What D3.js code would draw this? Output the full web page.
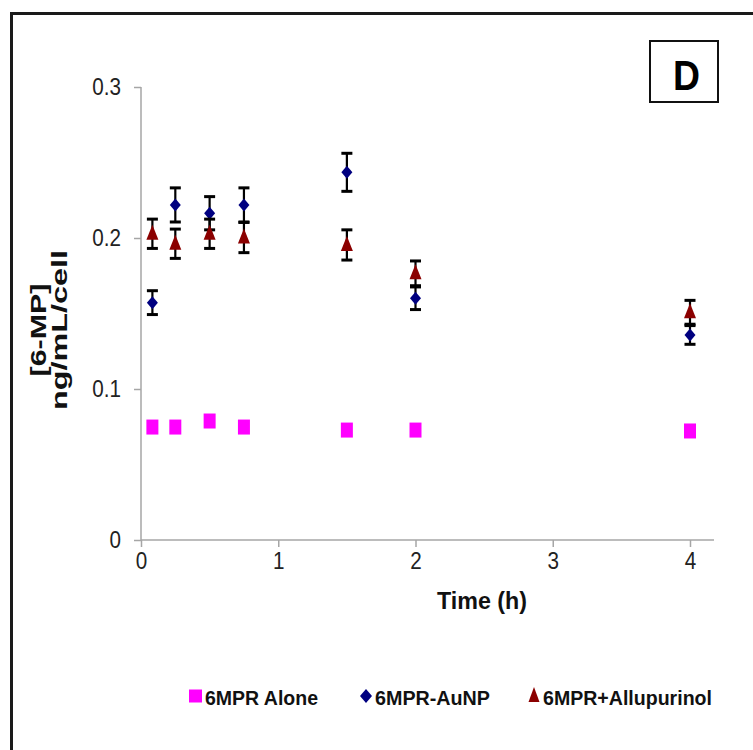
<!DOCTYPE html>
<html>
<head>
<meta charset="utf-8">
<script src="https://cdn.jsdelivr.net/npm/d3@7/dist/d3.min.js"></script>
<style>
  html, body { margin: 0; padding: 0; background: #fff; }
  svg { display: block; font-family: "Liberation Sans", Arial, sans-serif; }
</style>
</head>
<body>
<svg id="chart" width="753" height="750"></svg>
<script>
// ---- data ----
const times = [0.083, 0.25, 0.5, 0.75, 1.5, 2, 4];
const aloneValues = [0.0748, 0.0748, 0.0788, 0.0748, 0.0728, 0.0728, 0.0722];
const aunpValues = [0.1572, 0.2219, 0.2164, 0.2219, 0.2435, 0.1601, 0.1358];
const aunpErrors = [0.0079, 0.0113, 0.0110, 0.0113, 0.0126, 0.0075, 0.0062];
const alloValues = [0.2028, 0.1962, 0.2028, 0.2003, 0.1954, 0.1766, 0.1508];
const alloErrors = [0.0097, 0.0097, 0.0097, 0.0100, 0.0100, 0.0082, 0.0079];
const xTicks = [0, 1, 2, 3, 4];
const yTicks = [0, 0.1, 0.2, 0.3];
const seriesNames = ["6MPR Alone", "6MPR-AuNP", "6MPR+Allupurinol"];
const seriesColors = ["#ff00ff", "#000080", "#8b0000"];

const svg = d3.select("#chart");

function condense(sel, factor) {
  sel.each(function () {
    const w = this.getComputedTextLength();
    d3.select(this).attr("textLength", w * factor).attr("lengthAdjust", "spacingAndGlyphs");
  });
}

// outer frame
svg.append("rect").attr("x", 11.5).attr("y", 13.5).attr("width", 800).attr("height", 800)
  .attr("fill", "none").attr("stroke", "#1a1a1a").attr("stroke-width", 3);

const x = d3.scaleLinear().domain([0, 4]).range([141, 690]);
const y = d3.scaleLinear().domain([0, 0.3]).range([540, 87]);

const axisColor = "#a6a6a6";

// y axis
const yAxis = svg.append("g").attr("transform", "translate(141,0)")
  .call(d3.axisLeft(y).tickValues(yTicks).tickSize(7).tickPadding(13).tickFormat(d => d === 0 ? "0" : d3.format(".1f")(d)));
yAxis.select(".domain").attr("stroke", axisColor).attr("stroke-width", 1.5).attr("d", "M0,87V540");
yAxis.selectAll(".tick line").attr("stroke", axisColor).attr("stroke-width", 1.5);
yAxis.selectAll(".tick text").attr("font-size", 24).attr("fill", "#222")
  .attr("font-family", "Liberation Sans, Arial, sans-serif").call(condense, 0.86);

// x axis
const xAxis = svg.append("g").attr("transform", "translate(0,540)")
  .call(d3.axisBottom(x).tickValues(xTicks).tickSize(7).tickPadding(5).tickFormat(d3.format("d")));
xAxis.select(".domain").attr("stroke", axisColor).attr("stroke-width", 1.5).attr("d", "M141,0H714");
xAxis.selectAll(".tick line").attr("stroke", axisColor).attr("stroke-width", 1.5);
xAxis.selectAll(".tick text").attr("font-size", 24).attr("fill", "#222")
  .attr("font-family", "Liberation Sans, Arial, sans-serif").call(condense, 0.86);

// axis titles
svg.append("text").attr("x", 482).attr("y", 609).attr("text-anchor", "middle")
  .attr("font-size", 24).attr("font-weight", "bold").attr("fill", "#111")
  .attr("textLength", 90).attr("lengthAdjust", "spacingAndGlyphs").text("Time (h)");

const yt = svg.append("g").attr("transform", "translate(0,330) rotate(-90)");
yt.append("text").attr("x", 0).attr("y", 46).attr("text-anchor", "middle")
  .attr("font-size", 22).attr("font-weight", "bold").attr("fill", "#111")
  .attr("textLength", 93).attr("lengthAdjust", "spacingAndGlyphs").text("[6-MP]");
yt.append("text").attr("x", 0).attr("y", 67).attr("text-anchor", "middle")
  .attr("font-size", 22).attr("font-weight", "bold").attr("fill", "#111")
  .attr("textLength", 160).attr("lengthAdjust", "spacingAndGlyphs").text("ng/mL/cell");

// marker shapes
function squarePath(w, h) { return `M${-w/2},${-h/2}h${w}v${h}h${-w}Z`; }
function diamondPath(w, h) { return `M0,${-h/2}L${w/2},0L0,${h/2}L${-w/2},0Z`; }
function trianglePath(w, h) { return `M0,${-h*0.6}L${w/2},${h*0.4}L${-w/2},${h*0.4}Z`; }
const shapes = [squarePath(12, 15), diamondPath(11, 13), trianglePath(12, 15)];

function drawErrors(vals, errs) {
  const g = svg.append("g").attr("stroke", "#000").attr("stroke-width", 2.2);
  times.forEach((t, i) => {
    const cx = x(t), y1 = y(vals[i] + errs[i]), y2 = y(vals[i] - errs[i]);
    g.append("line").attr("x1", cx).attr("x2", cx).attr("y1", y1).attr("y2", y2);
    g.append("line").attr("x1", cx - 5.5).attr("x2", cx + 5.5).attr("y1", y1).attr("y2", y1).attr("stroke-width", 3);
    g.append("line").attr("x1", cx - 5.5).attr("x2", cx + 5.5).attr("y1", y2).attr("y2", y2).attr("stroke-width", 3);
  });
}
function drawMarkers(vals, si) {
  svg.append("g").selectAll("path").data(times).join("path")
    .attr("transform", (t, i) => `translate(${x(t)},${y(vals[i])})`)
    .attr("d", shapes[si]).attr("fill", seriesColors[si]);
}

drawMarkers(aloneValues, 0);
drawErrors(aunpValues, aunpErrors);
drawMarkers(aunpValues, 1);
drawErrors(alloValues, alloErrors);
drawMarkers(alloValues, 2);

// legend
const legendX = [195.5, 366, 534];
const legendTextX = [205, 375, 543];
const legendTextLen = [113, 115, 169];
const legendY = 696;
seriesNames.forEach((name, i) => {
  const shp = i === 0 ? squarePath(13, 13) : i === 1 ? diamondPath(12, 14) : trianglePath(11, 15);
  svg.append("path").attr("d", shp).attr("transform", `translate(${legendX[i]},${legendY})`).attr("fill", seriesColors[i]);
  svg.append("text").attr("x", legendTextX[i]).attr("y", 705)
    .attr("font-size", 20).attr("font-weight", "bold").attr("fill", "#111")
    .attr("textLength", legendTextLen[i]).attr("lengthAdjust", "spacingAndGlyphs").text(name);
});

// panel label
svg.append("rect").attr("x", 650).attr("y", 41).attr("width", 68).attr("height", 61)
  .attr("fill", "#fff").attr("stroke", "#111").attr("stroke-width", 2);
svg.append("text").attr("x", 686.5).attr("y", 90).attr("text-anchor", "middle")
  .attr("font-size", 42).attr("font-weight", "bold").attr("fill", "#000")
  .attr("textLength", 27).attr("lengthAdjust", "spacingAndGlyphs").text("D");
</script>
</body>
</html>
